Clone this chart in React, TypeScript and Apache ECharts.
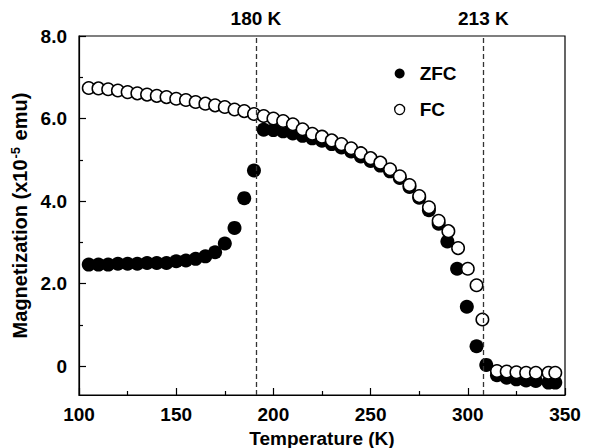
import React, { useEffect, useRef } from "react";
import * as echarts from "echarts";

const fcTemps = [105, 110, 115, 120, 125, 130, 135, 140, 145, 150, 155, 160, 165, 170, 175, 180, 185, 190, 195, 200, 205, 210, 215, 220, 225, 230, 235, 240, 245, 250, 255, 260, 265, 270, 275, 280, 285, 290, 295, 300, 304.5, 307.5, 315, 320, 325, 330, 335, 341.5, 345];
const fcValues = [6.74, 6.73, 6.71, 6.68, 6.64, 6.61, 6.58, 6.55, 6.52, 6.48, 6.45, 6.4, 6.36, 6.32, 6.28, 6.22, 6.18, 6.11, 6.06, 6.0, 5.94, 5.86, 5.74, 5.63, 5.56, 5.47, 5.38, 5.28, 5.16, 5.04, 4.93, 4.77, 4.6, 4.39, 4.12, 3.85, 3.52, 3.27, 2.86, 2.36, 1.96, 1.13, -0.12, -0.13, -0.15, -0.16, -0.16, -0.16, -0.16];

const zfcTemps = [105, 110, 115, 120, 125, 130, 135, 140, 145, 150, 155, 160, 165, 170, 175, 180, 185, 190, 195, 200, 205, 210, 215, 220, 225, 230, 235, 240, 245, 250, 255, 260, 265, 270, 275, 280, 285, 289.5, 294.5, 299.5, 304.5, 309.5, 315, 320, 325, 330, 335, 341.5, 345];
const zfcValues = [2.46, 2.46, 2.46, 2.48, 2.48, 2.48, 2.5, 2.5, 2.5, 2.54, 2.56, 2.6, 2.66, 2.76, 2.97, 3.35, 4.07, 4.74, 5.73, 5.72, 5.69, 5.64, 5.58, 5.52, 5.46, 5.38, 5.3, 5.2, 5.08, 4.97, 4.86, 4.72, 4.56, 4.34, 4.08, 3.78, 3.45, 3.02, 2.36, 1.44, 0.48, 0.03, -0.22, -0.28, -0.32, -0.35, -0.36, -0.4, -0.4];

const markTemps = [191, 308];
const markLabels = ["180 K", "213 K"];
const yMajorTicks = [0, 2, 4, 6, 8];
const yMinorTicks = [1, 3, 5, 7];

const FONT = "'Liberation Sans', Arial, sans-serif";

export default function App() {
  const ref = useRef<HTMLDivElement>(null);
  useEffect(() => {
    if (!ref.current) return;
    const chart = echarts.init(ref.current, null, { renderer: "svg" });
    const zfcData = zfcTemps.map((t, i) => [t, zfcValues[i]]);
    const fcData = fcTemps.map((t, i) => [t, fcValues[i]]);
    chart.setOption({
      animation: false,
      backgroundColor: "#fff",
      textStyle: { fontFamily: FONT },
      grid: {
        left: 79,
        right: 26,
        top: 36,
        bottom: 53,
        containLabel: false,
        outerBoundsMode: "none",
        show: true,
        borderColor: "#000",
        borderWidth: 1.2,
        backgroundColor: "transparent",
      },
      legend: {
        orient: "vertical",
        left: 389,
        top: 59,
        itemWidth: 10,
        itemHeight: 10,
        itemGap: 17,
        textStyle: { fontFamily: FONT, fontWeight: "bold", fontSize: 19, color: "#000", padding: [0, 0, 0, 10] },
        data: [
          { name: "ZFC", icon: "circle", itemStyle: { color: "#000", borderWidth: 0, opacity: 1 } },
          { name: "FC", icon: "circle", itemStyle: { color: "#fff", borderColor: "#000", borderWidth: 1.3, opacity: 1 } },
        ],
      },
      xAxis: {
        type: "value",
        min: 100,
        max: 350,
        interval: 50,
        name: "Temperature (K)",
        nameLocation: "middle",
        nameGap: 34,
        nameTextStyle: { fontFamily: FONT, fontWeight: "bold", fontSize: 19, color: "#000" },
        axisLine: { show: true, onZero: false, lineStyle: { color: "#000", width: 1.2 } },
        axisTick: { show: true, inside: true, length: 7, lineStyle: { color: "#000", width: 1.2 } },
        minorTick: { show: true, splitNumber: 2, length: 4, lineStyle: { color: "#000", width: 1.2 } },
        splitLine: { show: false },
        minorSplitLine: { show: false },
        axisLabel: { margin: 10, fontFamily: FONT, fontWeight: "bold", fontSize: 19, color: "#000" },
      },
      yAxis: [
        {
          type: "value",
          min: -0.7,
          max: 8,
          name: "{a|Magnetization (x10}{s|-5}{a| emu)}",
          nameLocation: "middle",
          nameGap: 46,
          nameTextStyle: {
            fontFamily: FONT,
            fontWeight: "bold",
            fontSize: 20,
            color: "#000",
            rich: {
              a: { fontFamily: FONT, fontWeight: "bold", fontSize: 20, color: "#000" },
              s: { fontFamily: FONT, fontWeight: "bold", fontSize: 13, color: "#000", verticalAlign: "top", padding: [0, 1, 8, 1] },
            },
          },
          axisLine: { show: true, onZero: false, lineStyle: { color: "#000", width: 1.2 } },
          axisTick: { show: true, inside: true, length: 7, customValues: yMajorTicks, lineStyle: { color: "#000", width: 1.2 } },
          splitLine: { show: false },
          axisLabel: {
            margin: 12,
            customValues: yMajorTicks,
            fontFamily: FONT,
            fontWeight: "bold",
            fontSize: 19,
            color: "#000",
            formatter: (v: number) => (v === 0 ? "0" : v.toFixed(1)),
          },
        },
        {
          type: "value",
          min: -0.7,
          max: 8,
          position: "left",
          axisLine: { show: false, onZero: false },
          axisTick: { show: true, inside: true, length: 4, customValues: yMinorTicks, lineStyle: { color: "#000", width: 1.2 } },
          axisLabel: { show: false },
          splitLine: { show: false },
        },
      ],
      series: [
        {
          name: "ZFC",
          type: "scatter",
          data: zfcData,
          symbol: "circle",
          symbolSize: 14,
          itemStyle: { color: "#000", opacity: 1 },
          markLine: {
            silent: true,
            symbol: ["none", "none"],
            lineStyle: { color: "#333", type: [5, 3], width: 1.3, opacity: 1 },
            label: {
              show: true,
              position: "end",
              distance: 8,
              fontFamily: FONT,
              fontWeight: "bold",
              fontSize: 19,
              color: "#000",
              formatter: (p: any) => markLabels[markTemps.indexOf(p.value)] ?? "",
            },
            data: markTemps.map((t) => ({ xAxis: t })),
          },
        },
        {
          name: "FC",
          type: "scatter",
          data: fcData,
          symbol: "circle",
          symbolSize: 12.5,
          itemStyle: { color: "#fff", borderColor: "#000", borderWidth: 1.5, opacity: 1 },
        },
      ],
    });
    return () => chart.dispose();
  }, []);
  return <div ref={ref} style={{ position: "fixed", left: 0, top: 0, width: 591, height: 448 }} />;
}
